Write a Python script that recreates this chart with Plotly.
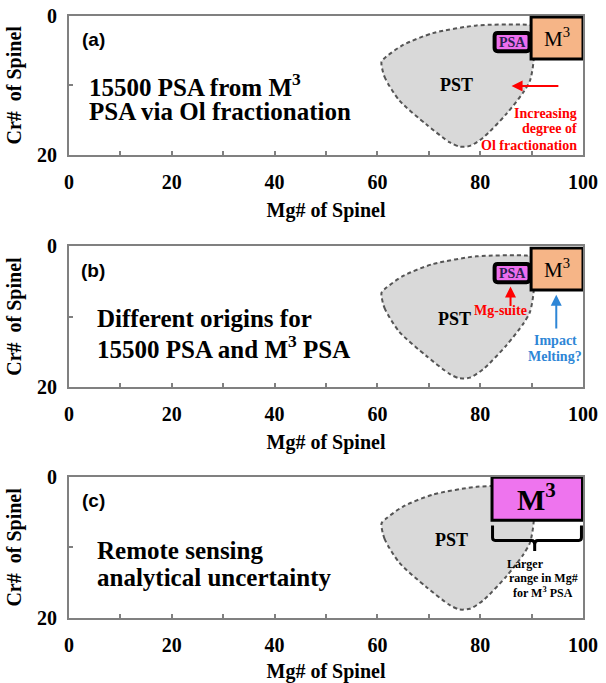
import plotly.graph_objects as go
from plotly.subplots import make_subplots

# ---------------- data (Mg#, Cr# of spinel) ----------------
x_tickvals = [0, 20, 40, 60, 80, 100]
x_ticktext = ["0", "20", "40", "60", "80", "100"]
y_tickvals = [0, 20]
y_ticktext = ["0", "20"]

# PST field outline
pst_mg = [60.8, 61.4, 64.3, 69.5, 74.1, 76.0, 78.0, 80.6, 85.1, 88.4, 89.7, 90.4,
          90.3, 89.0, 79.3, 70.8, 65.0, 61.7, 60.8]
pst_cr = [6.6, 8.8, 12.2, 15.6, 18.2, 18.8, 18.7, 17.5, 14.1, 11.0, 9.3, 6.4,
          1.5, 1.3, 1.4, 2.5, 4.2, 5.9, 6.6]

# M3 PSA field (panels a, b) and wider M3 field (panel c)
m3_mg = [89.9, 100.0]
m3_cr = [0.2, 6.2]
m3_wide_mg = [82.3, 99.9]
m3_wide_cr = [0.05, 6.15]
# 15500 PSA field
psa_mg = [82.8, 89.6]
psa_cr = [2.5, 5.1]

panel_labels = ["(a)", "(b)", "(c)"]
panel_text = [
    ["15500 PSA from M<sup>3</sup>", "PSA via Ol fractionation"],
    ["Different origins for", "15500 PSA and M<sup>3</sup> PSA"],
    ["Remote sensing", "analytical uncertainty"],
]

SERIF = "Liberation Serif"
SANS = "Liberation Sans"

fig = make_subplots(rows=3, cols=1)

domains = [[0.7731, 0.9770], [0.4338, 0.6391], [0.0953, 0.3017]]

for i in range(3):
    r = i + 1
    fig.add_trace(go.Scatter(
        x=pst_mg, y=pst_cr, mode="lines", fill="toself",
        fillcolor="#D9D9D9",
        line=dict(color="#555555", width=2, dash="4px,3px", shape="spline", smoothing=0.7),
        hoverinfo="skip", showlegend=False), row=r, col=1)

    fig.update_xaxes(
        row=r, col=1, range=[0, 100], domain=[0, 1], automargin=False,
        tickvals=x_tickvals, ticktext=x_ticktext, ticks="inside", ticklen=4,
        tickcolor="#808080", tickwidth=1.5,
        minor=dict(dtick=10, ticks="inside", ticklen=4, tickcolor="#808080", tickwidth=1.5,
                   showgrid=False),
        showline=True, linecolor="#808080", linewidth=2, mirror=True,
        showgrid=False, zeroline=False, ticklabelstandoff=8,
        tickfont=dict(family=SERIF, size=20, color="black", weight="bold"),
        title=dict(text="Mg# of Spinel", standoff=11,
                   font=dict(family=SERIF, size=20, color="black", weight="bold")))
    fig.update_yaxes(
        row=r, col=1, range=[20, 0], domain=domains[i], automargin=False,
        tickvals=y_tickvals, ticktext=y_ticktext, ticks="inside", ticklen=4,
        tickcolor="#808080", tickwidth=1.5,
        minor=dict(dtick=10, ticks="inside", ticklen=4, tickcolor="#808080", tickwidth=1.5,
                   showgrid=False),
        showline=True, linecolor="#808080", linewidth=2, mirror=True,
        showgrid=False, zeroline=False, ticklabelstandoff=6,
        tickfont=dict(family=SERIF, size=20, color="black", weight="bold"),
        title=dict(text="Cr#\u00a0 of Spinel", standoff=10,
                   font=dict(family=SERIF, size=20, color="black", weight="bold")))

annotations = []
shapes = []


def refs(i):
    s = "" if i == 0 else str(i + 1)
    return "x" + s, "y" + s


def text(i, x, y, t, size, color="black", xanchor="center", family=SERIF, weight="bold"):
    xr, yr = refs(i)
    annotations.append(dict(x=x, y=y, xref=xr, yref=yr, text=t, showarrow=False,
                            xanchor=xanchor, yanchor="middle",
                            font=dict(family=family, size=size, color=color, weight=weight)))


def arrow(i, x0, y0, x1, y1, color):
    xr, yr = refs(i)
    annotations.append(dict(x=x1, y=y1, ax=x0, ay=y0, xref=xr, yref=yr, axref=xr, ayref=yr,
                            text="", showarrow=True, arrowhead=2, arrowsize=1.1,
                            arrowwidth=2, arrowcolor=color))


def rounded_box(i, xs, ys, fill, lw):
    xr, yr = refs(i)
    x0, x1 = xs
    y0, y1 = ys
    rx, ry = 0.6, 0.45
    path = (f"M {x0+rx},{y0} L {x1-rx},{y0} Q {x1},{y0} {x1},{y0+ry} "
            f"L {x1},{y1-ry} Q {x1},{y1} {x1-rx},{y1} L {x0+rx},{y1} "
            f"Q {x0},{y1} {x0},{y1-ry} L {x0},{y0+ry} Q {x0},{y0} {x0+rx},{y0} Z")
    shapes.append(dict(type="path", path=path, xref=xr, yref=yr, fillcolor=fill,
                       line=dict(color="black", width=lw), layer="above"))


def box(i, xs, ys, fill, lw):
    xr, yr = refs(i)
    shapes.append(dict(type="rect", x0=xs[0], x1=xs[1], y0=ys[0], y1=ys[1], xref=xr, yref=yr,
                       fillcolor=fill, line=dict(color="black", width=lw), layer="above"))


line_y = [[9.95, 13.8], [10.3, 14.3], [10.45, 14.3]]
line_x = [3.5, 5.0, 5.0]
for i in range(3):
    text(i, 4.7, 3.4, panel_labels[i], 19, family=SANS)
    for k in range(2):
        text(i, line_x[i], line_y[i][k], panel_text[i][k], 25, xanchor="left")

# panel (a)
box(0, m3_mg, m3_cr, "#F6B587", 3)
text(0, 94.9, 3.2, "M<sup>3</sup>", 21, weight="normal")
rounded_box(0, psa_mg, psa_cr, "#EE6EEE", 4)
text(0, 86.2, 3.8, "PSA", 14, color="#2A2050")
text(0, 75.4, 10.0, "PST", 18)
arrow(0, 95.5, 10.1, 86.1, 10.1, "#FF0000")
text(0, 99.2, 14.0, "Increasing", 14, color="#FF0000", xanchor="right")
text(0, 99.2, 16.2, "degree of", 14, color="#FF0000", xanchor="right")
text(0, 99.2, 18.6, "Ol fractionation", 14, color="#FF0000", xanchor="right")

# panel (b)
box(1, m3_mg, m3_cr, "#F6B587", 3)
text(1, 94.9, 3.2, "M<sup>3</sup>", 21, weight="normal")
rounded_box(1, psa_mg, psa_cr, "#EE6EEE", 4)
text(1, 86.2, 3.8, "PSA", 14, color="#2A2050")
text(1, 75.0, 10.3, "PST", 18)
arrow(1, 85.9, 8.7, 85.9, 5.7, "#FF0000")
text(1, 83.9, 9.2, "Mg-suite", 14, color="#FF0000")
arrow(1, 94.8, 11.9, 94.8, 6.9, "#2E86D6")
text(1, 94.6, 13.4, "Impact", 14, color="#2E86D6")
text(1, 94.6, 15.7, "Melting?", 14, color="#2E86D6")

# panel (c)
box(2, m3_wide_mg, m3_wide_cr, "#EE74EE", 3)
text(2, 90.9, 2.9, "M<sup>3</sup>", 30)
text(2, 74.4, 9.0, "PST", 18)
xr, yr = refs(2)
brace = ("M 82.4,6.9 L 82.4,8.6 Q 82.4,9.0 82.9,9.0 L 90.0,9.0 Q 90.6,9.0 90.6,9.6 "
         "L 90.6,10.5 M 90.6,9.6 Q 90.6,9.0 91.2,9.0 L 99.2,9.0 Q 99.7,9.0 99.7,8.6 L 99.7,6.9")
shapes.append(dict(type="path", path=brace, xref=xr, yref=yr,
                   line=dict(color="black", width=3), layer="above"))
text(2, 88.9, 12.35, "Larger", 12)
text(2, 92.3, 14.35, "range in Mg#", 12)
text(2, 92.3, 16.35, "for M<sup>3</sup> PSA", 12)

fig.update_layout(
    width=606, height=683,
    margin=dict(l=69, r=23, t=0, b=0),
    paper_bgcolor="white", plot_bgcolor="white",
    showlegend=False,
    annotations=annotations, shapes=shapes,
)

fig.write_html("out.html", config={"displayModeBar": False},
               post_script="document.body.style.margin='0';")
